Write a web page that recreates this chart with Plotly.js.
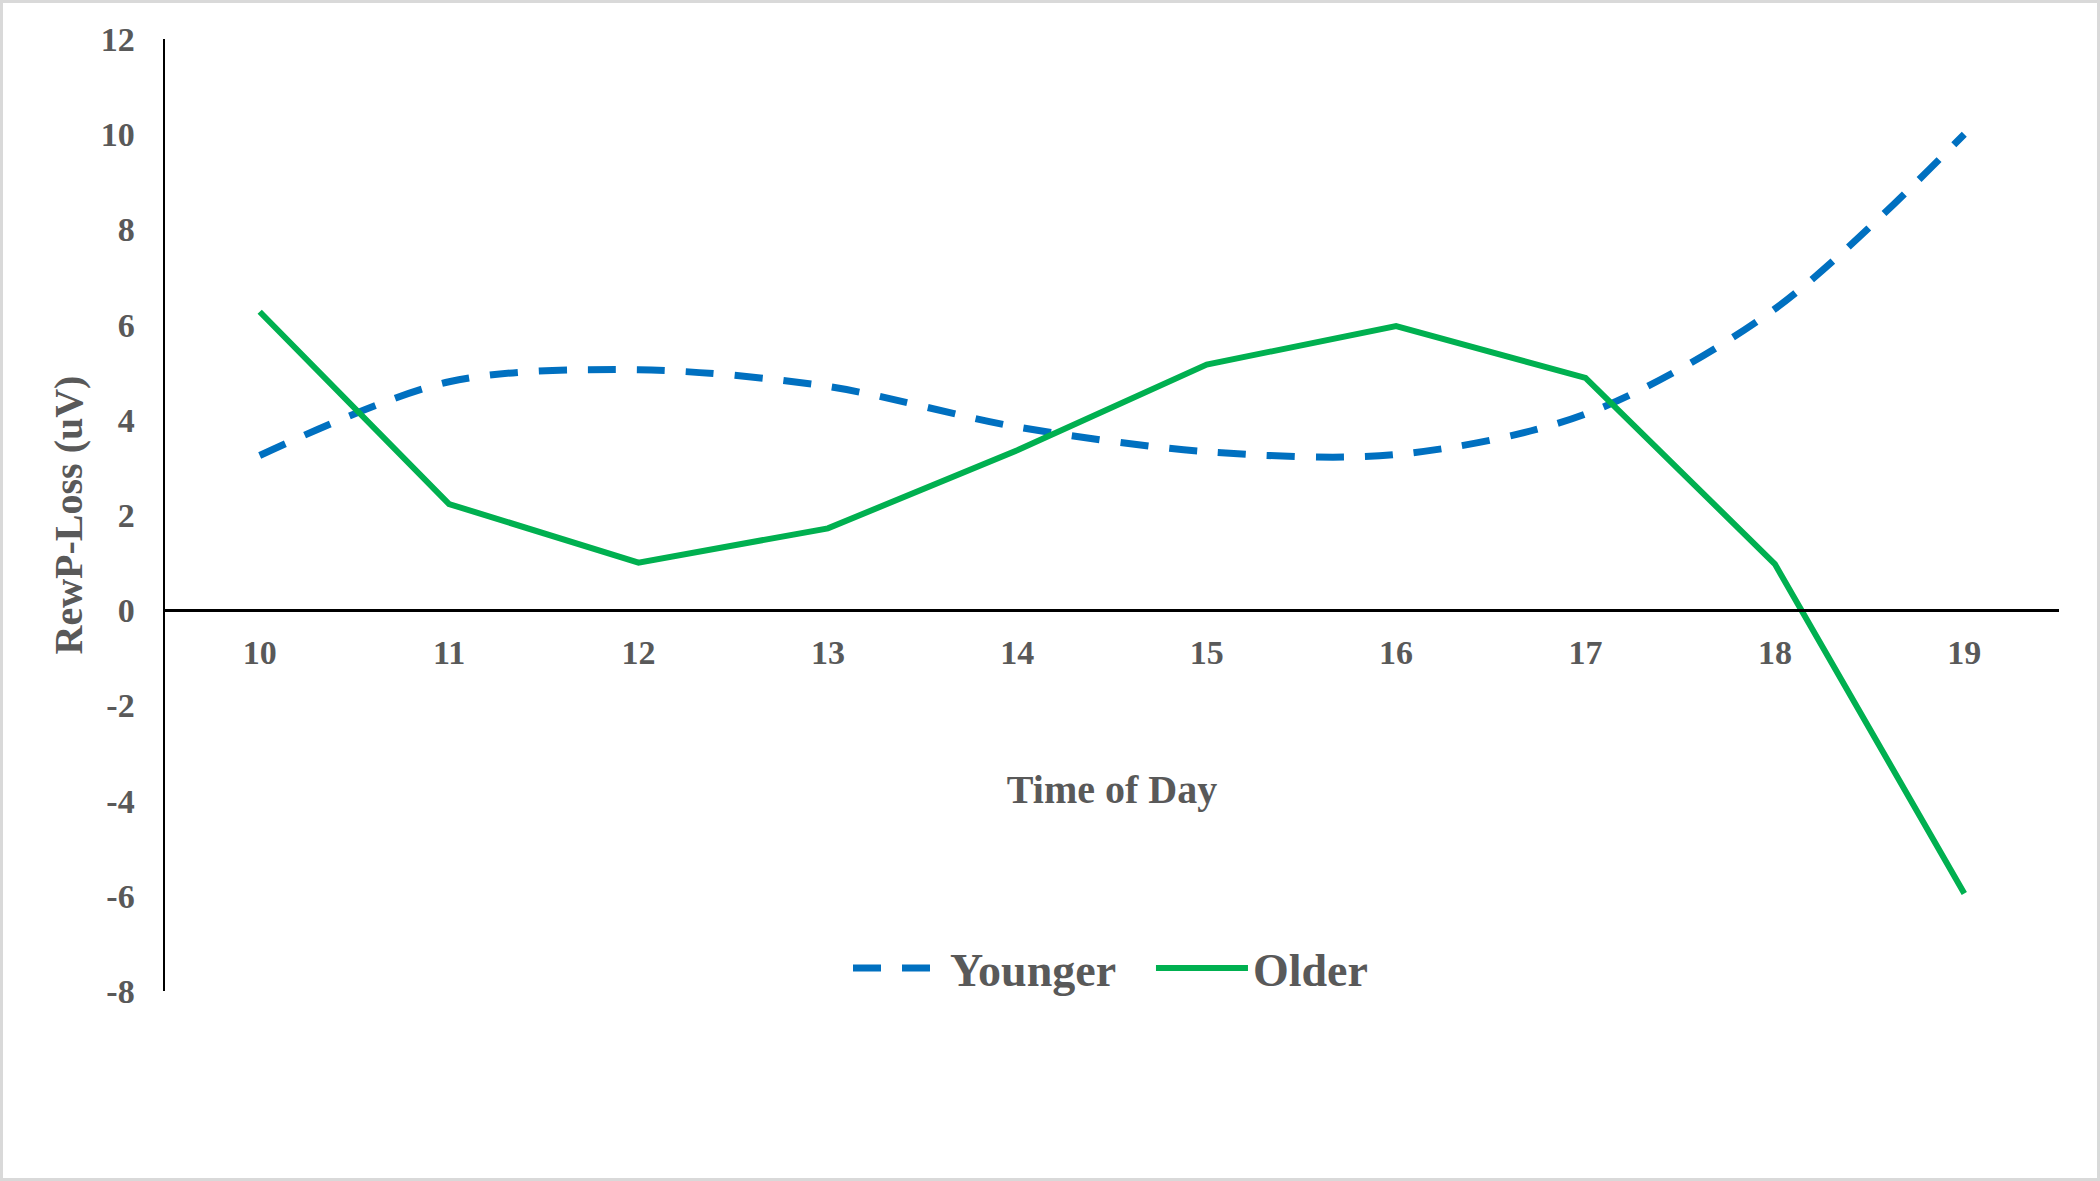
<!DOCTYPE html>
<html>
<head>
<meta charset="utf-8">
<script src="https://cdn.plot.ly/plotly-3.0.1.min.js"></script>
<style>
  body { margin: 0; background: #fff; }
  #wrap { position: relative; width: 2100px; height: 1181px; }
  #plot { width: 2100px; height: 1181px; }
  #frame { position: absolute; left: 0; top: 0; width: 2100px; height: 1181px;
           box-sizing: border-box; border: 3px solid #d9d9d9; pointer-events: none; }
</style>
</head>
<body>
<div id="wrap">
  <div id="plot"></div>
  <div id="frame"></div>
</div>
<script>
// time of day (hour)
const hours = [10, 11, 12, 13, 14, 15, 16, 17, 18, 19];
// RewP-Loss (uV)
const younger = [3.25, 4.8, 5.05, 4.7, 3.85, 3.33, 3.27, 4.12, 6.33, 10.0];
const older = [6.27, 2.23, 1.0, 1.72, 3.36, 5.16, 5.97, 4.88, 0.97, -5.95];
// y tick labels use a plain hyphen like the original
const yTicks = [-8, -6, -4, -2, 0, 2, 4, 6, 8, 10, 12];
const yTickText = ['-8', '-6', '-4', '-2', '0', '2', '4', '6', '8', '10', '12'];

const fontFam = '"Liberation Serif", "Times New Roman", serif';
const grey = '#595959';

const traces = [
  {
    x: hours, y: younger, name: 'Younger',
    type: 'scatter', mode: 'lines',
    line: { color: '#0070C0', width: 7, dash: '28px,21px', shape: 'spline', smoothing: 0.9 }
  },
  {
    x: hours, y: older, name: 'Older',
    type: 'scatter', mode: 'lines',
    line: { color: '#00B050', width: 6 }
  }
];

const layout = {
  width: 2100, height: 1181,
  margin: { l: 165, r: 41, t: 39, b: 190 },
  paper_bgcolor: '#fff', plot_bgcolor: '#fff',
  font: { family: fontFam, color: grey, size: 34 },
  showlegend: true,
  legend: {
    orientation: 'h', x: 0.3606, xanchor: 'left', y: 0.024, yanchor: 'middle',
    font: { family: fontFam, size: 46, color: grey, weight: 'bold' },
    itemwidth: 92,
    entrywidth: 196, entrywidthmode: 'pixels'
  },
  xaxis: {
    range: [9.5, 19.5],
    tickvals: hours, ticktext: hours.map(String),
    anchor: 'free', position: 0.4,
    showgrid: false, zeroline: false,
    showline: true, linecolor: '#000', linewidth: 3,
    ticks: '', ticklabelstandoff: 11,
    tickfont: { family: fontFam, size: 34, color: grey, weight: 'bold' },
    title: { text: 'Time of Day', standoff: 104,
             font: { family: fontFam, size: 40, color: grey, weight: 'bold' } }
  },
  yaxis: {
    range: [-8, 12],
    tickvals: yTicks, ticktext: yTickText,
    showgrid: false, zeroline: false,
    showline: true, linecolor: '#000', linewidth: 2.5,
    ticks: '', ticklabelstandoff: 21,
    tickfont: { family: fontFam, size: 34, color: grey, weight: 'bold' },
    title: { text: 'RewP-Loss (uV)', standoff: 6,
             font: { family: fontFam, size: 40, color: grey, weight: 'bold' } }
  }
};

Plotly.newPlot('plot', traces, layout, { staticPlot: true });
</script>
</body>
</html>
